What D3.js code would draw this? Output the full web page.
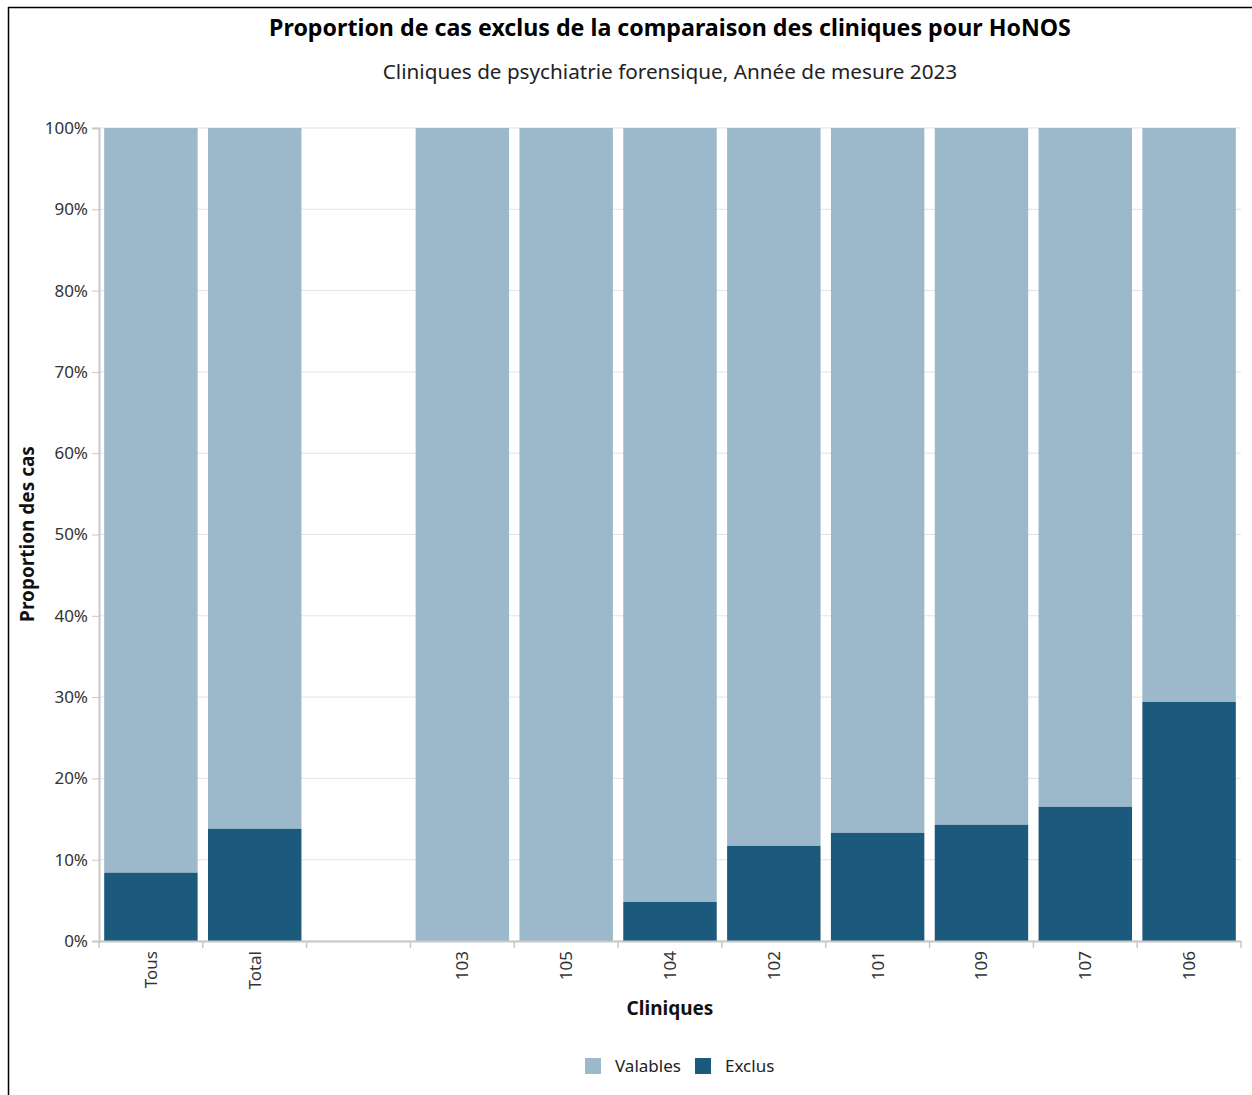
<!DOCTYPE html>
<html>
<head>
<meta charset="utf-8">
<script src="https://cdn.jsdelivr.net/npm/d3@7"></script>
<style>
  body { margin: 0; background: #fff; }
  svg text { font-family: "Noto Sans", "Open Sans", sans-serif; }
</style>
</head>
<body>
<svg id="chart" width="1252" height="1095"></svg>
<script>
// Categories (empty one is a spacer column)
const categories = ['Tous', 'Total', '_gap', '103', '105', '104', '102', '101', '109', '107', '106'];
const categoryLabels = ['Tous', 'Total', '', '103', '105', '104', '102', '101', '109', '107', '106'];
// Proportion excluded (%) per category, null = no bar
const exclus = [8.4, 13.8, null, 0, 0, 4.8, 11.7, 13.3, 14.3, 16.5, 29.4];
const yTicks = [0, 10, 20, 30, 40, 50, 60, 70, 80, 90, 100];
const seriesNames = ['Valables', 'Exclus'];
const seriesColors = ['#9bb9ca', '#1c5a7d'];

const svg = d3.select('#chart');
const margin = { top: 128, right: 11, bottom: 154, left: 99 };
const W = 1252, H = 1095;

// frame lines (top and left)
svg.append('line').attr('x1', 8).attr('x2', W).attr('y1', 7.5).attr('y2', 7.5)
    .attr('stroke', '#000').attr('stroke-width', 1.5);
svg.append('line').attr('x1', 8.5).attr('x2', 8.5).attr('y1', 7).attr('y2', H)
    .attr('stroke', '#000').attr('stroke-width', 1.5);

const x = d3.scaleBand()
    .domain(categories)
    .range([margin.left, W - margin.right])
    .paddingInner(0.1)
    .paddingOuter(0.05);

const y = d3.scaleLinear()
    .domain([0, 100])
    .range([H - margin.bottom, margin.top]);

// Grid
svg.append('g')
    .selectAll('line')
    .data(yTicks)
    .enter().append('line')
    .attr('x1', margin.left).attr('x2', W - margin.right)
    .attr('y1', d => y(d)).attr('y2', d => y(d))
    .attr('stroke', '#e3e3e3').attr('stroke-width', 1);

// Bars
const rows = categories.map((c, i) => ({ cat: c, ex: exclus[i] })).filter(d => d.ex !== null);

svg.append('g').selectAll('rect')
    .data(rows).enter().append('rect')
    .attr('x', d => x(d.cat))
    .attr('width', x.bandwidth())
    .attr('y', y(100))
    .attr('height', d => y(d.ex) - y(100))
    .attr('fill', seriesColors[0]);

svg.append('g').selectAll('rect')
    .data(rows.filter(d => d.ex > 0)).enter().append('rect')
    .attr('x', d => x(d.cat))
    .attr('width', x.bandwidth())
    .attr('y', d => y(d.ex))
    .attr('height', d => y(0) - y(d.ex))
    .attr('fill', seriesColors[1]);

// Y axis
const yAxis = svg.append('g')
    .attr('transform', `translate(${margin.left},0)`)
    .call(d3.axisLeft(y).tickValues(yTicks).tickFormat(d => d + '%').tickSize(7).tickPadding(4));
yAxis.select('.domain').attr('stroke', '#c8c8c8').attr('stroke-width', 2);
yAxis.selectAll('.tick line').attr('stroke', '#c8c8c8');
yAxis.selectAll('.tick text').attr('font-size', 17).attr('fill', '#333');

// X axis: ticks at band boundaries
const xAxis = svg.append('g')
    .attr('transform', `translate(0,${H - margin.bottom})`);
const bounds = d3.range(categories.length + 1).map(i => margin.left + i * (W - margin.right - margin.left) / categories.length);
xAxis.append('line')
    .attr('x1', margin.left).attr('x2', W - margin.right)
    .attr('y1', 0.5).attr('y2', 0.5)
    .attr('stroke', '#c8c8c8').attr('stroke-width', 2);
xAxis.selectAll('.bt').data(bounds).enter().append('line')
    .attr('class', 'bt')
    .attr('x1', d => d).attr('x2', d => d)
    .attr('y1', 0).attr('y2', 7)
    .attr('stroke', '#c8c8c8').attr('stroke-width', 1.5);
xAxis.selectAll('text').data(categories).enter().append('text')
    .attr('transform', d => `translate(${x(d) + x.bandwidth() / 2 + 6},10) rotate(-90)`)
    .attr('text-anchor', 'end')
    .attr('font-size', 17)
    .attr('fill', '#333')
    .text((d, i) => categoryLabels[i]);

// Titles
svg.append('text')
    .attr('x', 670).attr('y', 36)
    .attr('text-anchor', 'middle')
    .attr('font-size', 23.2).attr('font-weight', 'bold').attr('fill', '#000')
    .text('Proportion de cas exclus de la comparaison des cliniques pour HoNOS');
svg.append('text')
    .attr('x', 670).attr('y', 79)
    .attr('text-anchor', 'middle')
    .attr('font-size', 20.7).attr('fill', '#222')
    .text('Cliniques de psychiatrie forensique, Année de mesure 2023');

svg.append('text')
    .attr('x', 670).attr('y', 1015)
    .attr('text-anchor', 'middle')
    .attr('font-size', 19).attr('font-weight', 'bold').attr('fill', '#111')
    .text('Cliniques');

svg.append('text')
    .attr('transform', 'translate(34,534) rotate(-90)')
    .attr('text-anchor', 'middle')
    .attr('font-size', 19).attr('font-weight', 'bold').attr('fill', '#111')
    .text('Proportion des cas');

// Legend
const legendX = [585, 695];
const legend = svg.append('g');
seriesNames.forEach((name, i) => {
    legend.append('rect')
        .attr('x', legendX[i]).attr('y', 1058)
        .attr('width', 16).attr('height', 16)
        .attr('fill', seriesColors[i]);
    legend.append('text')
        .attr('x', legendX[i] + 30).attr('y', 1072)
        .attr('font-size', 17).attr('fill', '#222')
        .text(name);
});
</script>
</body>
</html>
